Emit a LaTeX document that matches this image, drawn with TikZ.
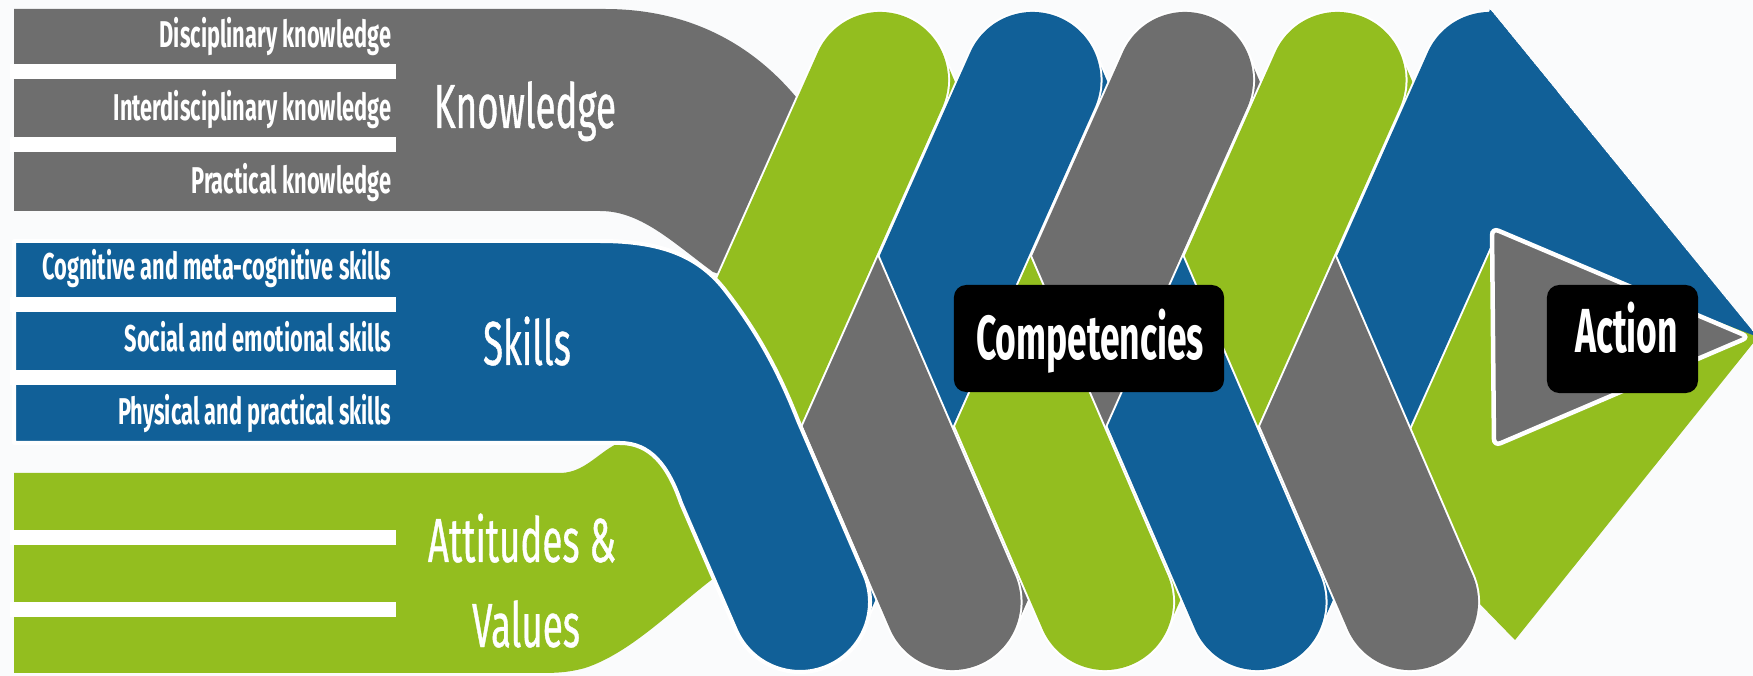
\documentclass[tikz,border=0pt]{standalone}
\usepackage{fontspec}
\setmainfont{Fira Sans}
\newfontfamily\rowfont[FakeStretch=0.585]{Fira Sans}
\newfontfamily\bigfont[FakeStretch=0.59, FakeBold=0.6]{Fira Sans}
\newfontfamily\tagfont[FakeStretch=0.57]{Fira Sans}
\definecolor{kgray}{RGB}{110,110,110}
\definecolor{sblue}{RGB}{17,96,152}
\definecolor{agreen}{RGB}{147,190,31}
\definecolor{paper}{RGB}{250,251,252}

\begin{document}
\begin{tikzpicture}[x=0.01cm, y=-0.01cm,
    strand/.style={line width=0.02cm, draw=white, double=#1, double distance=1.36cm, line cap=round},
    rowlabel/.style={text=white, inner sep=0pt, anchor=base east, font=\rowfont\bfseries\fontsize{10.6}{12}\selectfont},
    biglabel/.style={text=white, inner sep=0pt, anchor=base, font=\bigfont\fontsize{17.7}{20}\selectfont},
    tagbox/.style={fill=black, rounded corners=3.5pt, inner sep=0pt},
    taglabel/.style={text=white, inner sep=0pt, anchor=base, font=\tagfont\bfseries\fontsize{17.7}{20}\selectfont}
]
\useasboundingbox (0,0) rectangle (1753,676);
\clip (0,0) rectangle (1753,676);
\fill[paper] (0,0) rectangle (1753,676);

% green strand running into the lower half of the arrow
\draw[strand=agreen] (1337.5,80) -- (1449.6,340);
\fill[agreen] (1480,215) -- (1758,337) -- (1515,640) -- (1478,602) -- (1470,574) -- (1396,400) -- cycle;

% blue strand running into the upper half of the arrow
\begin{scope}
  \clip (1200,-346) -- (1800,389) -- (1800,800) -- (1000,800) -- (1000,-346) -- cycle;
  \draw[strand=sblue] (1257.5,602) -- (1490,80);
  \fill[sblue] (1490,9) -- (1758,337) -- (1505,240) -- (1470,200) -- (1470,80) -- cycle;
\end{scope}

% the braid, back to front
\foreach \col/\xa/\ya/\xb/\yb in {kgray/1185/80/1410/602, agreen/1105/602/1337.5/80,
    sblue/1032.5/80/1257.5/602, kgray/952.5/602/1185/80, agreen/880/80/1105/602,
    sblue/800/602/1032.5/80}
  \draw[strand=\col] (\xa,\ya) -- (\xb,\yb);
\draw[strand=kgray] (766.3,170) -- (952.5,602);

% knowledge band
\fill[kgray] (14,9) -- (605,9) .. controls (690,9) and (760,45) .. (810,115) -- (850,200)
  -- (800,300) -- (713,272) .. controls (670,240) and (640,211) .. (600,211) -- (14,211) -- cycle;
\draw[strand=agreen] (728.6,420) -- (880,80);

% attitudes band
\fill[agreen] (14,473) -- (560,473) .. controls (590,473) and (605,441) .. (632,440) -- (690,470)
  -- (740,560) .. controls (690,590) and (640,650) .. (585,668) .. controls (570,672) and (560,673) .. (540,673)
  -- (14,673) -- cycle;

% skills band
\filldraw[fill=sblue, draw=white, line width=0.04cm, line join=round]
  (14,241) -- (600,241) .. controls (665,241) and (700,258) .. (725,290)
  .. controls (752,325) and (775,362) .. (797.8,420) -- (864.3,574.3)
  arc[start angle=-23.3, end angle=156.7, radius=70]
  -- (681,503) .. controls (668,465) and (650,443) .. (620,443) -- (14,443) -- cycle;

% gaps between the rows
\foreach \y in {64,137,297,370,530,602}
  \fill[white] (10,\y) rectangle (396,\y+15);

% arrow head
\filldraw[fill=kgray, draw=white, line width=0.045cm, rounded corners=2pt]
  (1492,228) -- (1749,337) -- (1494,446) -- cycle;

\node[rowlabel] (dk) at (392,48) {Disciplinary knowledge};
\node[rowlabel] (ik) at (392,121) {Interdisciplinary knowledge};
\node[rowlabel] (pk) at (392,193.5) {Practical knowledge};
\node[rowlabel] (cs) at (392,280) {Cognitive and meta-cognitive skills};
\node[rowlabel] (se) at (392,352) {Social and emotional skills};
\node[rowlabel] (ps) at (392,425) {Physical and practical skills};

\node[biglabel] (know) at (525,128) {Knowledge};
\node[biglabel] (skills) at (527,365) {Skills};
\node[biglabel] (att) at (522,562) {Attitudes \&};
\node[biglabel] (val) at (526,647) {Values};

\node[tagbox, minimum width=2.70cm, minimum height=1.07cm] (compbox) at (1089,338.5) {};
\node[taglabel] (comp) at (1090,360) {Competencies};
\node[tagbox, minimum width=1.51cm, minimum height=1.08cm] (actbox) at (1622.5,339) {};
\node[taglabel] (act) at (1626.5,353) {Action};

\end{tikzpicture}
\end{document}
